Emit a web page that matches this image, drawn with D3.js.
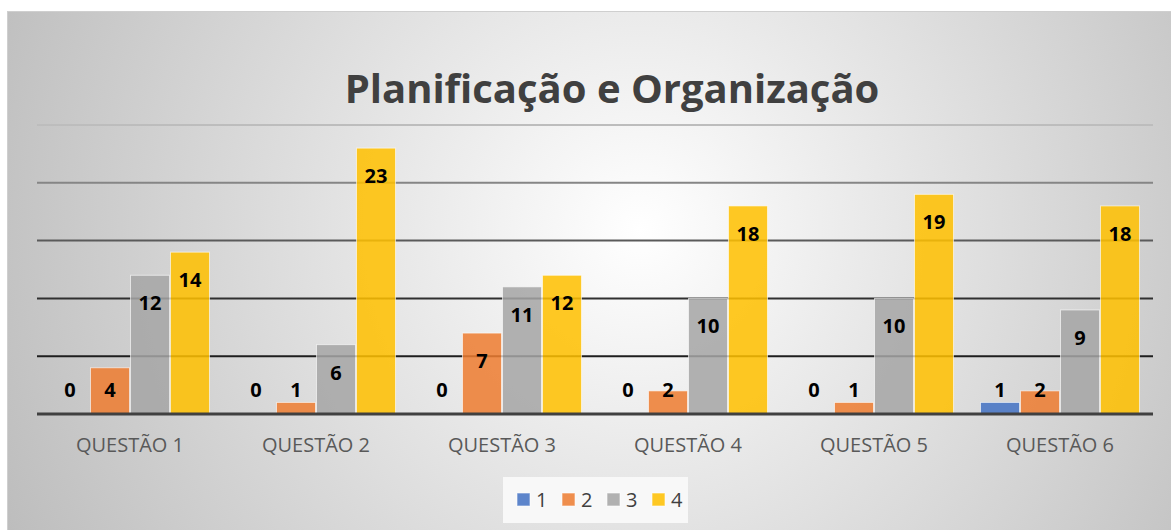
<!DOCTYPE html>
<html>
<head>
<meta charset="utf-8">
<script src="https://cdn.jsdelivr.net/npm/d3@7"></script>
<style>
  body { margin: 0; background: #fff; }
  svg { display: block; font-family: "Open Sans", "Noto Sans", sans-serif; }
</style>
</head>
<body>
<div id="chart"></div>
<script>
// data
var categories = ["QUESTÃO 1", "QUESTÃO 2", "QUESTÃO 3", "QUESTÃO 4", "QUESTÃO 5", "QUESTÃO 6"];
var seriesNames = ["1", "2", "3", "4"];
var series1 = [0, 0, 0, 0, 0, 1];
var series2 = [4, 1, 7, 2, 1, 2];
var series3 = [12, 6, 11, 10, 10, 9];
var series4 = [14, 23, 12, 18, 19, 18];
var gridTicks = [5, 10, 15, 20, 25];

var allSeries = [series1, series2, series3, series4];
var colors = ["#4472C4", "#ED7D31", "#A5A5A5", "#FFC000"];

var width = 1171, height = 530;
var margin = {top: 125, right: 18, bottom: 116, left: 37};
var plotW = width - margin.left - margin.right;
var plotH = height - margin.top - margin.bottom;

var svg = d3.select("#chart").append("svg")
    .attr("width", width)
    .attr("height", height);

var defs = svg.append("defs");
var bg = defs.append("radialGradient")
    .attr("id", "bg")
    .attr("gradientUnits", "userSpaceOnUse")
    .attr("cx", 640).attr("cy", 230).attr("r", 700);
bg.append("stop").attr("offset", "0%").attr("stop-color", "#ffffff");
bg.append("stop").attr("offset", "100%").attr("stop-color", "#bdbdbd");

var x0 = d3.scaleBand()
    .domain(categories)
    .range([0, plotW])
    .paddingInner(0.14)
    .paddingOuter(0.07);

var x1 = d3.scaleBand()
    .domain(seriesNames)
    .range([0, x0.bandwidth()]);

var y = d3.scaleLinear()
    .domain([0, 25])
    .range([plotH, 0]);

// gridlines get darker towards the axis
var gridGrad = defs.append("linearGradient")
    .attr("id", "gridGrad")
    .attr("gradientUnits", "userSpaceOnUse")
    .attr("x1", 0).attr("y1", y(25))
    .attr("x2", 0).attr("y2", y(5));
gridGrad.append("stop").attr("offset", "0%").attr("stop-color", "#bdbdbd");
gridGrad.append("stop").attr("offset", "25%").attr("stop-color", "#858585");
gridGrad.append("stop").attr("offset", "50%").attr("stop-color", "#5a5a5a");
gridGrad.append("stop").attr("offset", "75%").attr("stop-color", "#303030");
gridGrad.append("stop").attr("offset", "100%").attr("stop-color", "#1e1e1e");

svg.append("rect")
    .attr("x", 7.5).attr("y", 11.5)
    .attr("width", width + 10).attr("height", height + 10)
    .attr("fill", "url(#bg)")
    .attr("stroke", "#cfcfcf");

svg.append("text")
    .attr("x", 612)
    .attr("y", 103)
    .attr("text-anchor", "middle")
    .attr("font-size", 40)
    .attr("font-weight", "bold")
    .attr("fill", "#404040")
    .text("Planificação e Organização");

var g = svg.append("g")
    .attr("transform", "translate(" + margin.left + "," + margin.top + ")");

// gridlines
g.append("g")
    .selectAll("line")
    .data(gridTicks)
    .enter().append("line")
    .attr("x1", 0)
    .attr("x2", plotW)
    .attr("y1", function (d) { return y(d); })
    .attr("y2", function (d) { return y(d); })
    .attr("stroke", "url(#gridGrad)")
    .attr("stroke-width", 2);

var rows = categories.map(function (c, i) {
    return allSeries.map(function (s, j) {
        return {cat: c, key: seriesNames[j], value: s[i], color: colors[j]};
    });
});

var groups = g.selectAll(".cat")
    .data(rows)
    .enter().append("g")
    .attr("class", "cat")
    .attr("transform", function (d, i) {
        return "translate(" + x0(categories[i]) + ",0)";
    });

groups.selectAll("rect")
    .data(function (d) { return d; })
    .enter().append("rect")
    .attr("x", function (d) { return x1(d.key) + 0.5; })
    .attr("width", x1.bandwidth() - 1)
    .attr("y", function (d) { return y(d.value); })
    .attr("height", function (d) { return plotH - y(d.value); })
    .attr("fill", function (d) { return d.color; })
    .attr("fill-opacity", 0.86)
    .attr("stroke", "#ffffff")
    .attr("stroke-opacity", 0.6)
    .attr("stroke-width", 1);

groups.selectAll("text")
    .data(function (d) { return d; })
    .enter().append("text")
    .attr("x", function (d) { return x1(d.key) + x1.bandwidth() / 2; })
    .attr("y", function (d) { return Math.min(y(d.value) + 28, plotH - 24); })
    .attr("dy", "0.35em")
    .attr("text-anchor", "middle")
    .attr("font-size", 20)
    .attr("font-weight", "bold")
    .attr("fill", "#000")
    .text(function (d) { return d.value; });

// axis line
g.append("line")
    .attr("x1", 0).attr("x2", plotW)
    .attr("y1", plotH).attr("y2", plotH)
    .attr("stroke", "#404040")
    .attr("stroke-width", 3);

var xAxis = g.append("g")
    .attr("transform", "translate(0," + plotH + ")")
    .call(d3.axisBottom(x0).tickSize(0).tickPadding(24));
xAxis.select(".domain").remove();
xAxis.selectAll("text")
    .attr("font-size", 20)
    .attr("font-family", "'Open Sans', sans-serif")
    .attr("fill", "#595959");

// legend
var legend = svg.append("g").attr("transform", "translate(503,477)");
legend.append("rect")
    .attr("width", 185).attr("height", 46)
    .attr("fill", "#f8f8f8");
var items = legend.selectAll(".item")
    .data(seriesNames)
    .enter().append("g")
    .attr("class", "item")
    .attr("transform", function (d, i) { return "translate(" + (14 + i * 45) + ",16)"; });
items.append("rect")
    .attr("width", 13).attr("height", 13)
    .attr("fill", function (d, i) { return colors[i]; })
    .attr("fill-opacity", 0.86)
    .attr("stroke", "#fff")
    .attr("stroke-opacity", 0.6);
items.append("text")
    .attr("x", 19).attr("y", 7)
    .attr("dy", "0.35em")
    .attr("font-size", 20)
    .attr("fill", "#404040")
    .text(function (d) { return d; });
</script>
</body>
</html>
